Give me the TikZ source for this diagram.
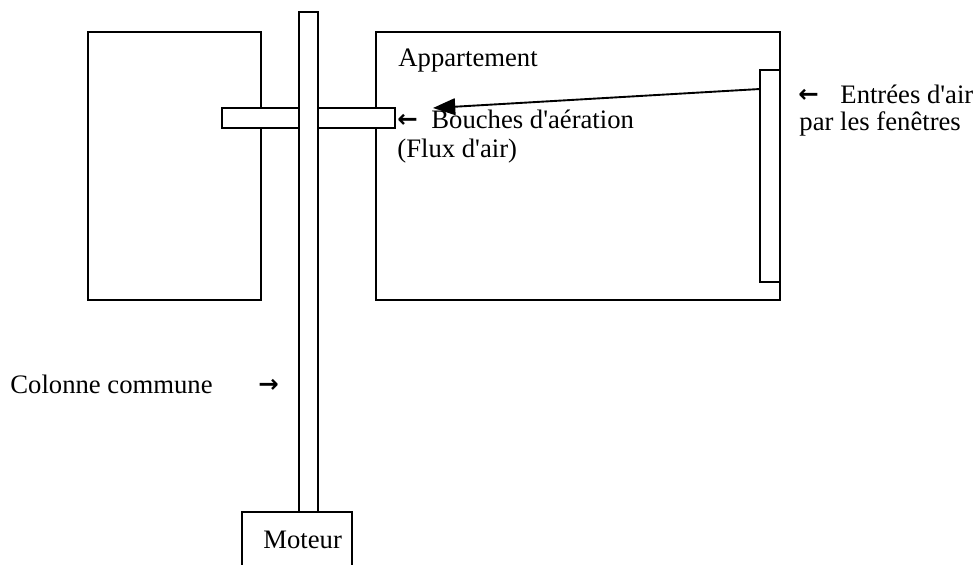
\documentclass[tikz,border=0pt]{standalone}
\usepackage{fontspec}
\setmainfont{Liberation Serif}
\newfontfamily\arrowfont{DejaVu Sans Bold}
\usetikzlibrary{fit,arrows.meta}
\newcommand{\apos}{\textquotesingle}
\begin{document}
\begin{tikzpicture}[x=0.45pt,y=-0.45pt,
  box/.style={draw=black,line width=0.85pt,fill=white,inner sep=0pt,rectangle},
  lbl/.style={anchor=base west,inner sep=0pt,font=\fontsize{12}{14}\selectfont},
  arr/.style={anchor=base west,inner sep=0pt,font=\arrowfont\fontsize{11}{12}\selectfont}]
\useasboundingbox[fill=white] (0,0) rectangle (973,564);
% apartments
\node[box,fit={(88,32)(261,300)}] (leftapt) {};
\node[box,fit={(376,32)(780,300)}] (apt) {};
% vent bar
\node[box,fit={(222,108)(395,128)}] (vent) {};
% common column
\node[box,fit={(299,12)(318,512)}] (column) {};
% window air inlet
\node[box,fit={(760,70)(780,282)}] (window) {};
% motor
\coordinate (mbl) at (242,566);
\coordinate (mbr) at (352,566);
\draw[line width=0.85pt] (mbl) -- (242,512) -- (352,512) -- (mbr);
\node[lbl] (motor) at (263,548) {Moteur};
% texts
\node[lbl] (apttext) at (398,66) {Appartement};
\node[arr] (ventarrow) at (397,127) {←};
\node[lbl] (venttext) at (431,128) {Bouches d\apos aération};
\node[lbl] (flux) at (397,157) {(Flux d\apos air)};
\node[arr] (winarrow) at (798,102) {←};
\node[lbl] (wintext) at (840,103) {Entrées d\apos air};
\node[lbl] (wintext2) at (799,130) {par les fenêtres};
\node[lbl] (coltext) at (10,393) {Colonne commune};
\node[arr] (colarrow) at (258,392) {→};
% air flow arrow
\coordinate (flowstart) at (760,89);
\coordinate (flowend) at (433,108);
\draw[line width=0.85pt,-{Triangle[length=10pt,width=7.5pt]}] (flowstart) -- (flowend);
\end{tikzpicture}
\end{document}
